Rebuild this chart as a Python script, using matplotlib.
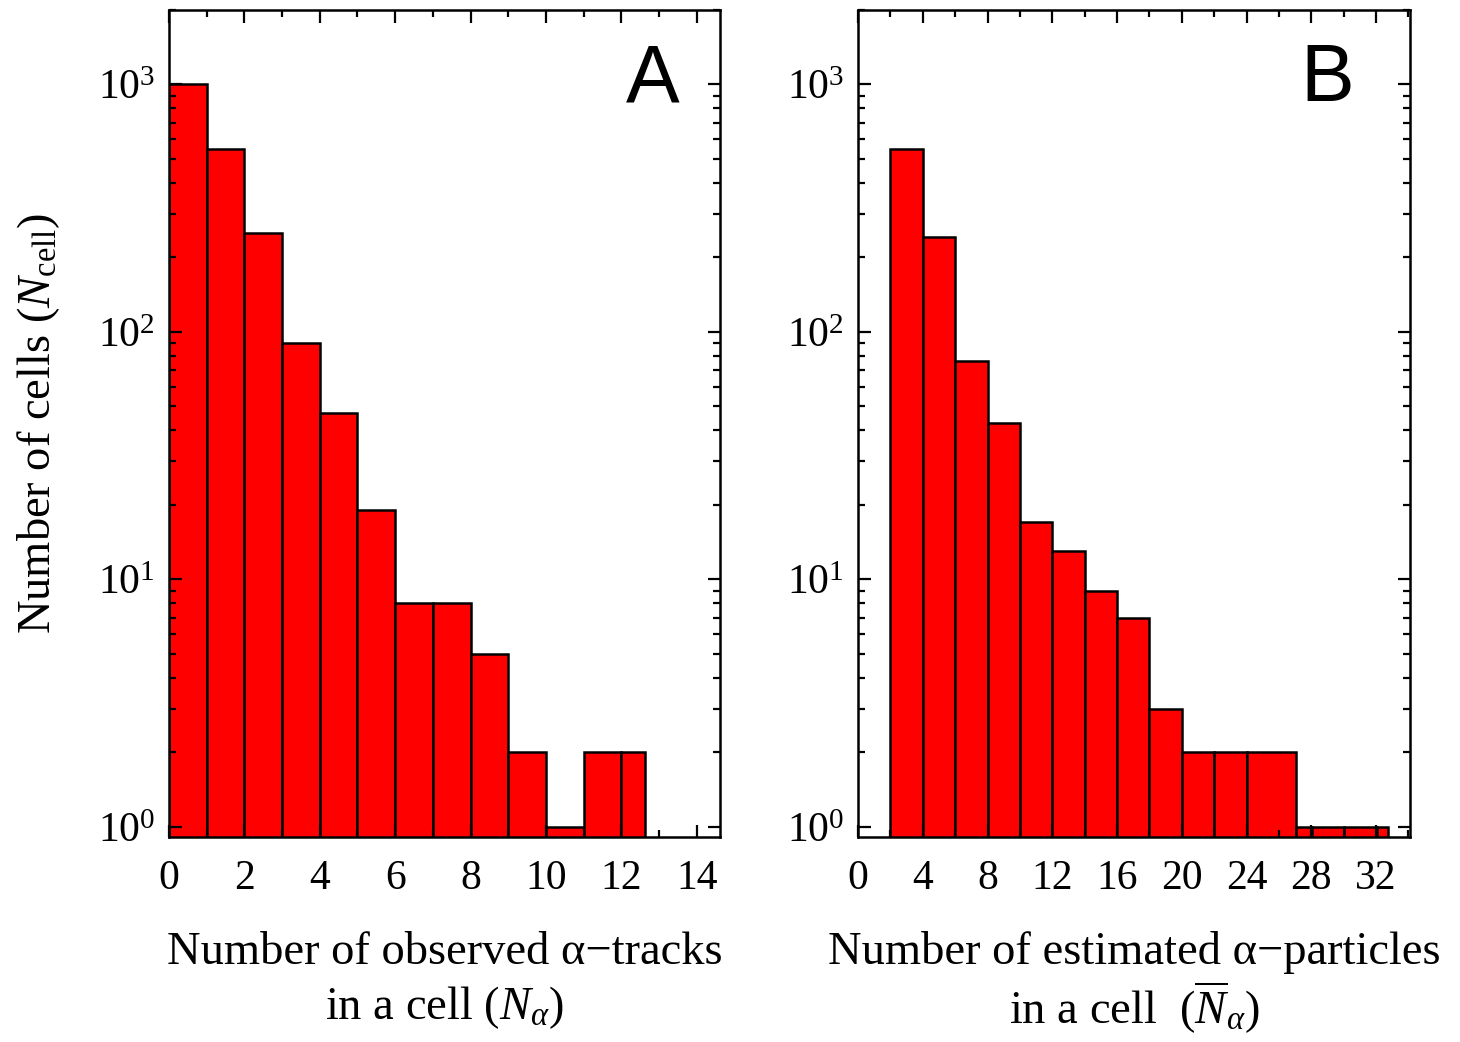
import numpy as np
import matplotlib
matplotlib.use('Agg')
import matplotlib.pyplot as plt
from matplotlib.ticker import LogLocator, MultipleLocator, NullFormatter, LogFormatterMathtext

plt.rcParams['font.family'] = ['Liberation Serif', 'DejaVu Serif']
plt.rcParams['mathtext.fontset'] = 'custom'
plt.rcParams['mathtext.rm'] = 'Liberation Serif'
plt.rcParams['mathtext.it'] = 'Liberation Serif:italic'
plt.rcParams['mathtext.bf'] = 'Liberation Serif:bold'

# panel A: observed alpha tracks per cell
a_edges = [0, 1, 2, 3, 4, 5, 6, 7, 8, 9, 10, 11, 12, 12.64]
a_counts = [1000, 550, 250, 90, 47, 19, 8, 8, 5, 2, 1, 2, 2]

# panel B: estimated alpha particles per cell
b_edges = [2, 4, 6, 8, 10, 12, 14, 16, 18, 20, 22, 24, 27.05, 28.04, 30.02, 32.06, 32.74]
b_counts = [550, 243, 76, 43, 17, 13, 9, 7, 3, 2, 2, 2, 1, 1, 1, 1]

fig = plt.figure(figsize=(14.6, 10.42), dpi=100)
axA = fig.add_axes([169/1460, 1-837/1042, 551/1460, 827/1042])
axB = fig.add_axes([858/1460, 1-837/1042, 552/1460, 827/1042])


def draw(ax, edges, counts, xmax, major, minor, letter, lx, xlabel, lsp):
    edges = np.array(edges)
    ax.set_yscale('log')
    ax.bar(edges[:-1], counts, width=np.diff(edges), align='edge', bottom=1e-4,
           color='#ff0000', edgecolor='black', linewidth=1.8)
    ax.set_ylim(0.91, 2000)
    ax.set_xlim(0, xmax)
    ax.xaxis.set_major_locator(MultipleLocator(major))
    ax.xaxis.set_minor_locator(MultipleLocator(minor))
    ax.yaxis.set_major_locator(LogLocator(base=10, numticks=10))
    ax.yaxis.set_minor_locator(LogLocator(base=10, subs=np.arange(2, 10), numticks=20))
    ax.yaxis.set_major_formatter(LogFormatterMathtext())
    ax.yaxis.set_minor_formatter(NullFormatter())
    ax.tick_params(which='both', direction='in', top=True, right=True, width=1.6, labelsize=30)
    ax.tick_params(which='major', length=9)
    ax.tick_params(which='minor', length=5)
    ax.tick_params(axis='x', which='major', pad=16)
    ax.tick_params(axis='y', which='major', pad=10)
    for s in ax.spines.values():
        s.set_linewidth(1.8)
    ax.text(lx, 0.915, letter, transform=ax.transAxes, ha='center', va='center',
            fontsize=58, family='Liberation Sans')
    ax.set_xlabel(xlabel, fontsize=33.5, linespacing=lsp, va='top')
    ax.xaxis.set_label_coords(0.5, -0.114)


draw(axA, a_edges, a_counts, 14.62, 2, 1, 'A', 0.877,
     'Number of observed α−tracks\nin a cell ($N_\\alpha$)', 1.3)
draw(axB, b_edges, b_counts, 34.1, 4, 2, 'B', 0.85,
     'Number of estimated α−particles\nin a cell  ($\\overline{N}_\\alpha$)', 1.12)
axA.set_ylabel('Number of cells ($N_\\mathrm{cell}$)', fontsize=33.5, labelpad=26)

fig.savefig('out.png', dpi=100)
